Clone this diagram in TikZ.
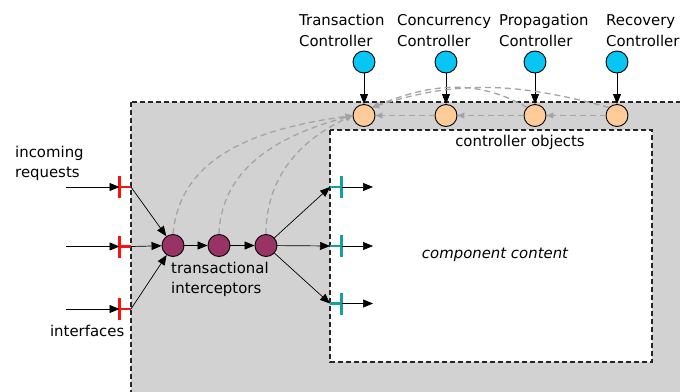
\documentclass[tikz,border=0pt]{standalone}
\usepackage{fontspec}
\setmainfont{DejaVu Sans}
\usetikzlibrary{arrows.meta}

\definecolor{ctrlblue}{HTML}{08C6F4}
\definecolor{objpeach}{HTML}{FFCC99}
\definecolor{icptpurple}{HTML}{993366}
\definecolor{boxgray}{HTML}{D2D2D2}
\definecolor{linkgray}{HTML}{A4A4A4}
\definecolor{ifteal}{HTML}{14A0A0}
\definecolor{ifred}{HTML}{FF1010}

\tikzset{
  lbl/.style={font=\fontsize{14.9}{20.5}\selectfont, inner sep=0pt, align=left},
  blob/.style={circle, draw=black, line width=0.9pt, minimum size=22pt, inner sep=0pt},
  ctrl/.style={blob, fill=ctrlblue},
  obj/.style={blob, fill=objpeach},
  icpt/.style={blob, fill=icptpurple},
  arr/.style={-{Triangle[length=10pt,width=8pt]}, line width=0.7pt},
  glink/.style={linkgray, dash pattern=on 6pt off 4pt, line width=1.3pt,
                -{Triangle[length=7pt,width=6pt]}},
  boxline/.style={draw=black!85, line width=1.5pt, dash pattern=on 5pt off 3pt},
  redif/.style={ifred, line width=2.4pt},
  tealif/.style={ifteal, line width=2.4pt},
}

\begin{document}
\begin{tikzpicture}[x=1pt,y=-1pt]
\clip (0,0) rectangle (680,391);
\fill[white] (0,0) rectangle (680,391);

% component: outer shell and inner content area
\draw[boxline, fill=boxgray] (131,102) rectangle (700,420);
\draw[boxline, fill=white] (330,130) rectangle (652,362);

% controllers
\node[ctrl] (tc) at (364,62) {};
\node[ctrl] (cc) at (446,62) {};
\node[ctrl] (pc) at (535,62) {};
\node[ctrl] (rc) at (617,62) {};
\node[lbl, anchor=west] (tcl) at (299,30.5) {Transaction\\Controller};
\node[lbl, anchor=west] (ccl) at (397,30.5) {Concurrency\\Controller};
\node[lbl, anchor=west] (pcl) at (499,30.5) {Propagation\\Controller};
\node[lbl, anchor=west] (rcl) at (606,30.5) {Recovery\\Controller};

% controller objects
\node[obj] (to) at (364,115.5) {};
\node[obj] (co) at (446,115.5) {};
\node[obj] (po) at (535,115.5) {};
\node[obj] (ro) at (617,115.5) {};
\node[lbl, anchor=center] (col) at (520,142) {controller objects};

\draw[arr] (tc) -- (to);
\draw[arr] (cc) -- (co);
\draw[arr] (pc) -- (po);
\draw[arr] (rc) -- (ro);

\draw[glink] (ro.west) -- (po.east);
\draw[glink] (po.west) -- (co.east);
\draw[glink] (co.west) -- (to.east);
\draw[glink] (ro.north west) to[out=165,in=18] (to.north east);
\draw[glink] (po.north west) to[out=150,in=22] (to.north east);

% transactional interceptors
\node[icpt] (i1) at (173,245.5) {};
\node[icpt] (i2) at (219,245.5) {};
\node[icpt] (i3) at (266,245.5) {};
\node[lbl, anchor=north west] (il) at (171,261.5) {transactional\\interceptors};

\draw[arr] (i1) -- (i2);
\draw[arr] (i2) -- (i3);

\draw[glink] (i1.north) to[out=85,in=188] (to.west);
\draw[glink] (i2.north) to[out=88,in=195] (to.west);
\draw[glink] (i3.north) to[out=90,in=205] (to.west);

% incoming interfaces (red)
\coordinate (s1) at (66,187);
\coordinate (s2) at (66,246.5);
\coordinate (s3) at (66,309);
\coordinate (rb1) at (119.5,187);
\coordinate (rb2) at (119.5,246.5);
\coordinate (rb3) at (119.5,309);
\coordinate (re1) at (131,187);
\coordinate (re2) at (131,246.5);
\coordinate (re3) at (131,309);
\foreach \k in {1,2,3}{
  \draw[redif] ([yshift=-11pt]rb\k) -- ([yshift=11pt]rb\k);
  \draw[redif] (rb\k) -- (re\k);
  \draw[arr] (s\k) -- (rb\k);
  \draw[arr] (re\k) -- (i1);
}
\node[lbl, anchor=west] (inl) at (15,163.5) {incoming\\requests};
\node[lbl, anchor=east] (ifl) at (124.5,331) {interfaces};

% outgoing interfaces (teal)
\coordinate (te1) at (330,187);
\coordinate (te2) at (330,246);
\coordinate (te3) at (330,303.5);
\coordinate (tb1) at (341.5,187);
\coordinate (tb2) at (341.5,246);
\coordinate (tb3) at (341.5,303.5);
\coordinate (tx1) at (373,187);
\coordinate (tx2) at (373,246);
\coordinate (tx3) at (373,303.5);
\foreach \k in {1,2,3}{
  \draw[arr] (i3) -- (te\k);
  \draw[tealif] (te\k) -- (tb\k);
  \draw[tealif] ([yshift=-11pt]tb\k) -- ([yshift=11pt]tb\k);
  \draw[arr] (tb\k) -- (tx\k);
}

\node[lbl, anchor=center, font=\fontsize{14.9}{20.5}\selectfont\itshape] (ccl2) at (495,255) {component content};
\end{tikzpicture}
\end{document}
